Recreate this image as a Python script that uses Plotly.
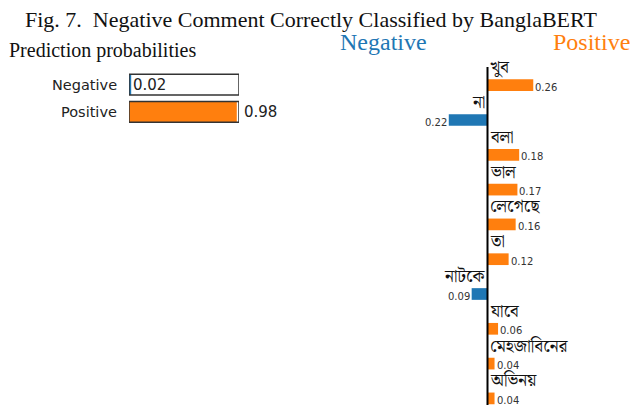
import plotly.graph_objects as go

# ---------------- data ----------------
class_names = ["Negative", "Positive"]
class_probs = [0.02, 0.98]
class_colors = ["#1f77b4", "#ff7f0e"]

features = ["খুব", "না", "বলা", "ভাল", "লেগেছে", "তা", "নাটকে", "যাবে", "মেহজাবিনের", "অভিনয়"]
weights = [0.26, -0.22, 0.18, 0.17, 0.16, 0.12, -0.09, 0.06, 0.04, 0.04]

title_text = "Fig. 7.&nbsp;&nbsp;Negative Comment Correctly Classified by BanglaBERT"

W, H = 631, 405
SERIF = "Liberation Serif, Times New Roman, serif"
SANS = "DejaVu Sans, Verdana, sans-serif"
BENG = "Noto Serif Bengali, Noto Sans Bengali, Lohit Bengali, Vrinda, FreeSerif, serif"

def px_x(p):
    return p / W

def px_y(p):
    return 1 - p / H

fig = go.Figure()

# ---------------- left panel: prediction probabilities ----------------
ybar_idx = list(range(len(class_names)))
fig.add_trace(go.Bar(
    x=class_probs, y=ybar_idx, orientation="h",
    marker=dict(color=class_colors, line=dict(width=0)),
    width=0.76, xaxis="x", yaxis="y", hoverinfo="skip", showlegend=False,
))

shapes = []
annotations = []
for i, (name, p) in enumerate(zip(class_names, class_probs)):
    shapes.append(dict(type="rect", xref="x", yref="y", x0=0, x1=1,
                       y0=i - 0.38, y1=i + 0.38,
                       line=dict(color="#333333", width=1.5), fillcolor="rgba(0,0,0,0)"))
    annotations.append(dict(xref="x", yref="y", x=0, y=i, text=name,
                            xanchor="right", yanchor="middle", xshift=-10, showarrow=False,
                            font=dict(family=SANS, size=14.5, color="#222")))
    if p < 0.5:
        annotations.append(dict(xref="x", yref="y", x=p, y=i, text=f"{p:.2f}",
                                xanchor="left", yanchor="middle", xshift=0, showarrow=False,
                                font=dict(family=SANS, size=15, color="#222")))
    else:
        annotations.append(dict(xref="x", yref="y", x=1, y=i, text=f"{p:.2f}",
                                xanchor="left", yanchor="middle", xshift=3, showarrow=False,
                                font=dict(family=SANS, size=15, color="#222")))

# ---------------- right panel: feature weights ----------------
row_idx = list(range(len(features)))
bar_colors = ["#ff7f0e" if w > 0 else "#1f77b4" for w in weights]
fig.add_trace(go.Bar(
    x=weights, y=row_idx, orientation="h",
    marker=dict(color=bar_colors, line=dict(width=0)),
    width=0.336, xaxis="x2", yaxis="y2", hoverinfo="skip", showlegend=False,
))

for i, (f, w) in enumerate(zip(features, weights)):
    pos = w > 0
    annotations.append(dict(xref="x2", yref="y2", x=0, y=i, text=f,
                            xanchor="left" if pos else "right", yanchor="middle",
                            xshift=1 if pos else -2, yshift=17, showarrow=False,
                            borderpad=0,
                            font=dict(family=BENG, size=17, color="#111")))
    annotations.append(dict(xref="x2", yref="y2", x=w, y=i, text=f"{abs(w):.2f}",
                            xanchor="left" if pos else "right", yanchor="middle",
                            xshift=1 if pos else -1, yshift=-2, showarrow=False,
                            borderpad=0,
                            font=dict(family=SANS, size=10, color="#333")))

shapes.append(dict(type="line", xref="x2", yref="paper", x0=0, x1=0,
                   y0=px_y(67), y1=0, line=dict(color="black", width=2)))

# headers
annotations.append(dict(xref="paper", yref="paper", x=px_x(338), y=px_y(42), text="Negative",
                        xanchor="left", yanchor="middle", showarrow=False,
                        font=dict(family=SERIF, size=24, color="#1f77b4")))
annotations.append(dict(xref="paper", yref="paper", x=px_x(551), y=px_y(42), text="Positive",
                        xanchor="left", yanchor="middle", showarrow=False,
                        font=dict(family=SERIF, size=24, color="#ff7f0e")))
annotations.append(dict(xref="paper", yref="paper", x=px_x(7), y=px_y(50),
                        text="Prediction probabilities",
                        xanchor="left", yanchor="middle", showarrow=False,
                        font=dict(family=SERIF, size=20, color="#111")))
annotations.append(dict(xref="paper", yref="paper", x=px_x(310.5), y=px_y(19.5),
                        text=title_text,
                        xanchor="center", yanchor="middle", showarrow=False,
                        font=dict(family=SERIF, size=22, color="#111")))

# axis geometry
sc = 176.0
x0px = 487.5
d2l = 340.0
r2 = [(d2l - x0px) / sc, (W - x0px) / sc]
rc, rs = 85.2, 34.8
r_y2 = [(H - rc) / rs, -rc / rs]

lc, ls = 84.6, 27.3
r_y1 = [(H - lc) / ls, -lc / ls]

ax_common = dict(visible=False, showgrid=False, zeroline=False, fixedrange=True)
fig.update_layout(
    width=W, height=H,
    margin=dict(l=0, r=0, t=0, b=0),
    paper_bgcolor="white", plot_bgcolor="rgba(0,0,0,0)",
    barmode="overlay",
    xaxis=dict(domain=[px_x(129), px_x(239)], range=[0, 1], **ax_common),
    yaxis=dict(domain=[0, 1], range=r_y1, anchor="x", **ax_common),
    xaxis2=dict(domain=[px_x(d2l), 1.0], range=r2, anchor="y2", **ax_common),
    yaxis2=dict(domain=[0, 1], range=r_y2, anchor="x2", **ax_common),
    shapes=shapes,
    annotations=annotations,
)

fig.write_html("out.html", config={"displayModeBar": False},
               post_script="document.body.style.margin='0';document.body.style.overflow='hidden';")
